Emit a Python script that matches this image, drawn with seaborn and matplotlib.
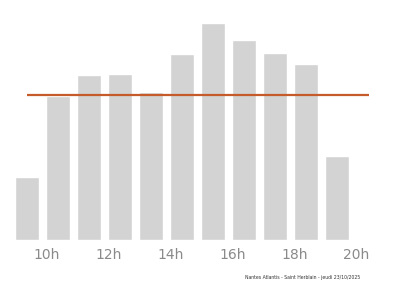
import matplotlib
matplotlib.use("Agg")
import matplotlib.pyplot as plt
import seaborn as sns
import pandas as pd
import numpy as np

hours = [9, 10, 11, 12, 13, 14, 15, 16, 17, 18, 19]
values = [63, 144, 165, 166, 148, 186, 217, 200, 187, 176, 84]
average = 145
tick_hours = [10, 12, 14, 16, 18, 20]
tick_labels = ["10h", "12h", "14h", "16h", "18h", "20h"]
footer = "Nantes Atlantis - Saint Herblain - jeudi 23/10/2025"

bar_width = 0.77
df = pd.DataFrame({"hour": hours, "value": values})
df["center"] = df["hour"] + bar_width / 2

sns.set_style("white")
fig = plt.figure(figsize=(4.0, 2.86), dpi=100)
ax = fig.add_axes([0.0075, 0.1608, 0.961, 0.8392])

sns.barplot(data=df, x="center", y="value", native_scale=True, width=bar_width,
            color="#d3d3d3", saturation=1, ax=ax, errorbar=None)
ax.hlines(average, 9.39, 20.42, color="#c55a2b", linewidth=1.6, zorder=3)

ax.set_xlim(8.6, 21.0)
ax.set_ylim(0, 240)
ax.set_xticks(tick_hours)
ax.set_xticklabels(tick_labels, fontsize=10, color="#8a8a8a")
ax.set_yticks([])
ax.tick_params(axis="x", length=0, pad=6)
ax.set_xlabel("")
ax.set_ylabel("")
sns.despine(ax=ax, left=True, bottom=True)

fig.text(0.6125, 0.028, footer, fontsize=3.3, color="#333333", va="center")

fig.savefig("out.png", dpi=100, facecolor="white")
